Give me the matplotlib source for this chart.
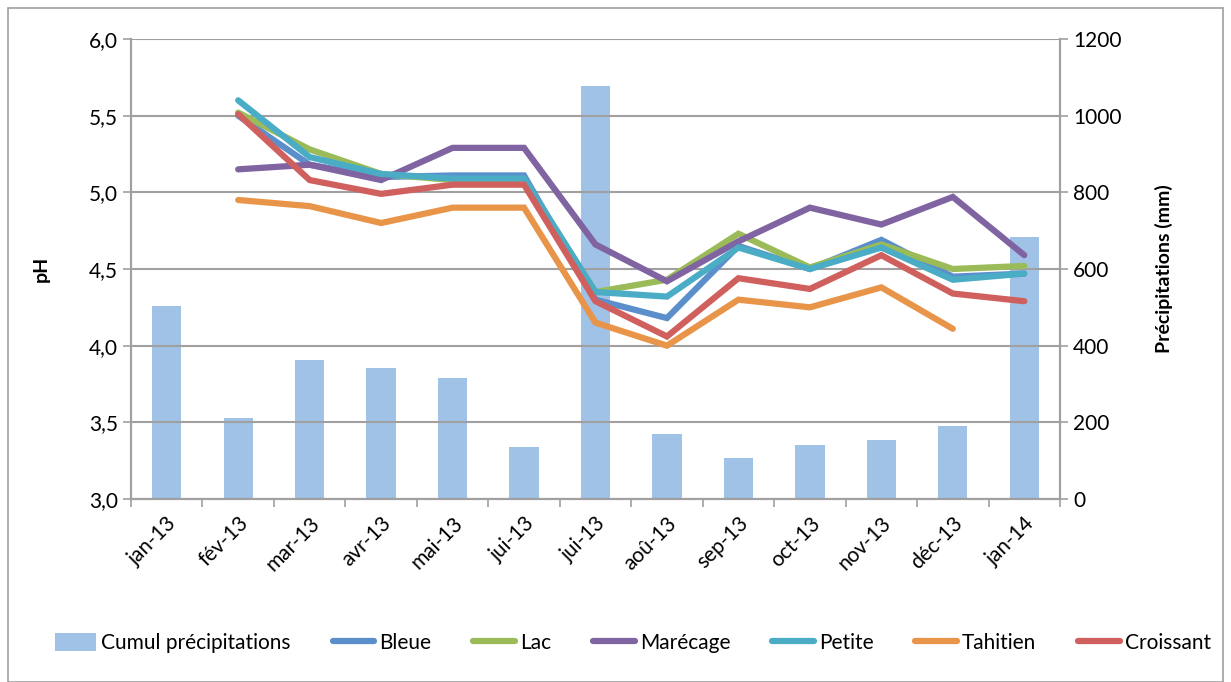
import matplotlib
matplotlib.use("Agg")
import matplotlib.pyplot as plt
import numpy as np
from matplotlib.patches import Rectangle

months = ["jan-13", "fév-13", "mar-13", "avr-13", "mai-13", "jui-13", "jui-13",
          "aoû-13", "sep-13", "oct-13", "nov-13", "déc-13", "jan-14"]
precip = [503, 211, 362, 341, 315, 135, 1078, 169, 107, 141, 154, 190, 683]
nan = np.nan
bleue = [nan, 5.50, 5.18, 5.10, 5.11, 5.11, 4.30, 4.18, 4.65, 4.50, 4.69, 4.45, 4.47]
lac = [nan, 5.52, 5.28, 5.12, 5.08, 5.08, 4.35, 4.43, 4.73, 4.51, 4.66, 4.50, 4.52]
marecage = [nan, 5.15, 5.18, 5.08, 5.29, 5.29, 4.66, 4.42, 4.68, 4.90, 4.79, 4.97, 4.59]
petite = [nan, 5.60, 5.23, 5.12, 5.09, 5.09, 4.35, 4.32, 4.64, 4.50, 4.64, 4.43, 4.47]
tahitien = [nan, 4.95, 4.91, 4.80, 4.90, 4.90, 4.15, 4.00, 4.30, 4.25, 4.38, 4.11, nan]
croissant = [nan, 5.51, 5.08, 4.99, 5.05, 5.05, 4.29, 4.06, 4.44, 4.37, 4.59, 4.34, 4.29]

series = [("Bleue", bleue, "#5B8FCB"), ("Lac", lac, "#9BBB59"),
          ("Marécage", marecage, "#8064A2"), ("Petite", petite, "#4BACC6"),
          ("Tahitien", tahitien, "#E8954A"), ("Croissant", croissant, "#D0605E")]

plt.rcParams['font.family'] = ['Lato', 'DejaVu Sans']
W, H = 1231, 682
fig = plt.figure(figsize=(W / 100, H / 100), dpi=100)
ax = fig.add_axes([131 / W, 1 - 499 / H, (1060 - 131) / W, (499 - 39) / H])
ax2 = ax.twinx()
ax.set_zorder(ax2.get_zorder() + 1)
ax.patch.set_visible(False)

x = np.arange(len(months))
ax2.bar(x, precip, width=0.41, color="#A1C2E7", zorder=1, label="Cumul précipitations")
ax2.set_ylim(0, 1200)
ax2.set_yticks(range(0, 1201, 200))
ax2.set_ylabel("Précipitations (mm)", fontsize=14, fontweight="bold", labelpad=24)

for name, vals, col in series:
    ax.plot(x, vals, color=col, lw=4.5, label=name, solid_capstyle="round",
            solid_joinstyle="miter", zorder=3)

ax.set_ylim(3.0, 6.0)
ax.set_xlim(-0.5, len(months) - 0.5)
ax.set_yticks(np.arange(3.0, 6.01, 0.5))
ax.set_yticklabels([f"{v:.1f}".replace(".", ",") for v in np.arange(3.0, 6.01, 0.5)])
ax.set_ylabel("pH", fontsize=14, fontweight="bold", labelpad=28)
ax.yaxis.grid(True, color="#A0A0A0", lw=1.5)
ax.set_axisbelow(True)
ax.set_xticks(x)
ax.set_xticklabels(months, rotation=45, ha="right", rotation_mode="anchor")
ax.set_xticks(np.arange(-0.5, len(months), 1), minor=True)
ax.tick_params(axis="x", which="major", length=0, labelsize=15, pad=10)
ax.tick_params(axis="x", which="minor", length=6, color="#A0A0A0", width=1.2)
ax.tick_params(axis="y", labelsize=15, length=6, color="#A0A0A0", width=1.2)
ax2.tick_params(axis="y", labelsize=15, length=6, color="#A0A0A0", width=1.2)
for a in (ax, ax2):
    a.spines["top"].set_visible(False)
    for s in ("left", "right", "bottom"):
        a.spines[s].set_color("#A0A0A0")
        a.spines[s].set_linewidth(1.5)

h2, l2 = ax2.get_legend_handles_labels()
h1, l1 = ax.get_legend_handles_labels()
fig.legend(h2 + h1, l2 + l1, loc="center", bbox_to_anchor=(0.514, 1 - 643 / H),
           ncol=7, frameon=False, fontsize=15, handlelength=2.0, columnspacing=2.0,
           handletextpad=0.25, handleheight=1.0)

fig.add_artist(Rectangle((8 / W, 0.5 / H), (W - 16) / W, (H - 8) / H, transform=fig.transFigure,
                         fill=False, edgecolor="#A0A0A0", lw=1.2))
fig.savefig("out.png", dpi=100)
